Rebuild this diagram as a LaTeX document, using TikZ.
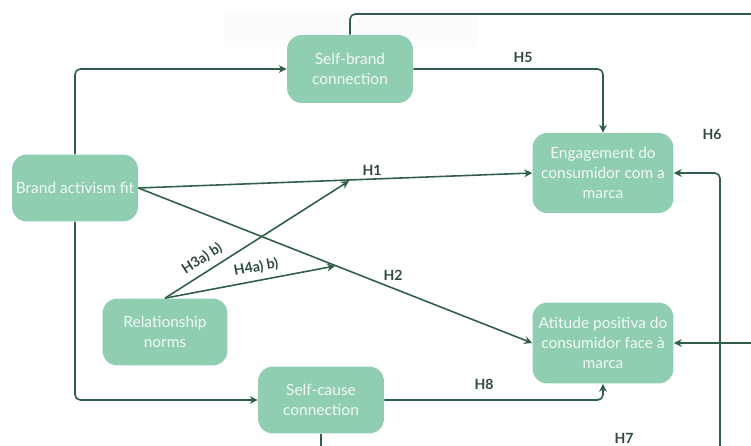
\documentclass[tikz,border=0pt]{standalone}
\usepackage{fontspec}
\setmainfont{Lato}
\usetikzlibrary{positioning}
\usetikzlibrary{arrows.meta}

\definecolor{boxgreen}{HTML}{8FCEB0}
\definecolor{linegreen}{HTML}{2F5F47}
\definecolor{labelgreen}{HTML}{2E4A40}
\definecolor{boxtext}{HTML}{F2F9F5}

\begin{document}
\begin{tikzpicture}[
x=0.02cm, y=-0.02cm,
construct/.style={
fill=boxgreen,
rounded corners=0.3cm,
text=boxtext,
align=center,
font=\fontsize{8.8}{11.4}\selectfont,
inner sep=0pt
},
link/.style={
draw=linegreen,
line width=0.9pt,
rounded corners=3pt,
-{Stealth[length=4.5pt,width=4.5pt]}
},
hyp/.style={
text=labelgreen,
font=\fontsize{8}{9}\selectfont\bfseries
}
]

\useasboundingbox (0,0) rectangle (751,446);

% faint patch behind the top connector
\fill[black!1] (223,13) rectangle (478,47);

\node[construct, minimum width=2.52cm, minimum height=1.36cm] (sb)  at (350,69)  {Self-brand\\connection};
\node[construct, minimum width=2.52cm, minimum height=1.34cm] (baf) at (75,188)  {Brand activism fit};
\node[construct, minimum width=2.82cm, minimum height=1.6cm]  (eng) at (603,173) {Engagement do\\consumidor com a\\marca};
\node[construct, minimum width=2.5cm,  minimum height=1.34cm] (rn)  at (165,332) {Relationship\\norms};
\node[construct, minimum width=2.82cm, minimum height=1.62cm] (att) at (603,343) {Atitude positiva do\\consumidor face à\\marca};
\node[construct, minimum width=2.52cm, minimum height=1.34cm] (sc)  at (321,400) {Self-cause\\connection};

% loose ends leaving the frame
\coordinate (sbout)  at (751,14);
\coordinate (scout)  at (321,446);
\coordinate (h6in)   at (720,446);
\coordinate (h7in)   at (751,343);
\coordinate (h3end)  at (349,181);
\coordinate (h4end)  at (335,266);

\draw[link] (baf.north) |- (sb.west);
\draw[link] (baf.south) |- (sc.west);
\draw[link] (sb.east) -| (eng.north);
\draw[link] (sc.east) -| (att.south);
\draw[link, -] (sb.north) |- (sbout);
\draw[link, -] (sc.south) -- (scout);
\draw[link] (h6in) |- (eng.east);
\draw[link] (h7in) -- (att.east);

\draw[link] (baf.east) -- (eng.west);
\draw[link] (baf.east) -- (att.west);
\draw[link] (rn.north) -- node[hyp, sloped, above, pos=0.24] {H3a) b)} (h3end);
\draw[link] (rn.north) -- node[hyp, sloped, above, pos=0.55] {H4a) b)} (h4end);

\node[hyp] (h1) at (372,170) {H1};
\node[hyp] (h2) at (393,275) {H2};
\node[hyp] (h5) at (523,57)  {H5};
\node[hyp] (h6) at (712,134) {H6};
\node[hyp] (h7) at (624,438) {H7};
\node[hyp] (h8) at (484,384) {H8};

\end{tikzpicture}
\end{document}
